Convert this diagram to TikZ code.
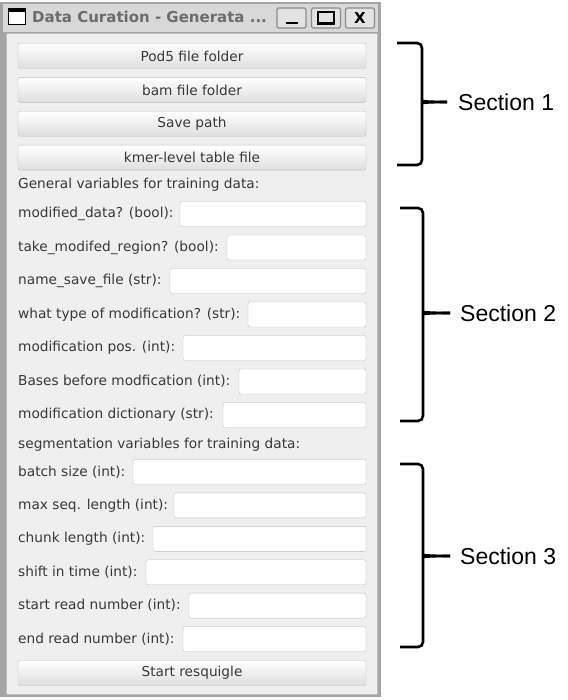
\documentclass[tikz,border=0pt]{standalone}
\usepackage{fontspec}
\setmainfont{DejaVu Sans}
\newfontfamily\secfont{Liberation Sans}
\usetikzlibrary{positioning}

\definecolor{frame}{HTML}{A4A4A4}
\definecolor{titlebg}{HTML}{D8D8D8}
\definecolor{panel}{HTML}{EFEFEF}
\definecolor{edge}{HTML}{BEBEBE}
\definecolor{txt}{HTML}{383838}
\definecolor{titletxt}{HTML}{6C6C6C}

\newcommand\guifont{\fontsize{13.7}{16}\selectfont}

\tikzset{
	btn/.style={draw=edge, rounded corners=2pt, top color=white, bottom color=panel!85!gray, minimum width=348pt, minimum height=25pt, inner sep=0pt, text=txt, font=\guifont},
	lab/.style={anchor=west, inner sep=0pt, text=txt, font=\guifont},
	entry/.style={draw=edge, fill=white, rounded corners=2pt},
	tbtn/.style={draw=gray!90, line width=1.2pt, fill=gray!22, rounded corners=1.5pt, minimum width=29pt, minimum height=20pt, inner sep=0pt},
	sec/.style={anchor=west, inner sep=0pt, font=\secfont\fontsize{23}{26}\selectfont},
	bracket/.style={line width=2.6pt, rounded corners=5pt}
}

\begin{document}
\begin{tikzpicture}[x=1pt,y=-1pt]
	
	\useasboundingbox[fill=white] (0,0) rectangle (567,700);
	
	\fill[frame] (0,2) rectangle (381,697);
	\fill[titlebg] (3,4) rectangle (378,32);
	\filldraw[fill=panel, draw=edge] (6,33) rectangle (377,694);
	
	\filldraw[fill=white, draw=black, line width=1pt] (8,9) rectangle (25,25);
	\fill[black] (7.5,8) rectangle (25.5,12);
	\node[anchor=west, inner sep=0pt, text=titletxt, font=\fontsize{15}{17}\selectfont\bfseries] (title) at (32,17) {Data Curation - Generata ...};
	\node[tbtn] (min) at (291.5,18) {};
	\node[tbtn] (max) at (326,18) {};
	\node[tbtn] (close) at (360,18) {};
	\draw[line width=2pt] ([xshift=-6pt,yshift=-5pt]min.center) -- ([xshift=6pt,yshift=-5pt]min.center);
	\draw[line width=1.4pt] ([xshift=-8pt,yshift=-6pt]max.center) rectangle ([xshift=8pt,yshift=6pt]max.center);
	\draw[line width=1.4pt] ([xshift=-8pt,yshift=-5pt]max.center) -- ([xshift=8pt,yshift=-5pt]max.center);
	\node[font=\fontsize{15}{17}\selectfont\bfseries] at (close.center) {X};
	
	\node[btn] (pod) at (192,56) {Pod5 file folder};
	\node[btn, below=8.5pt of pod] (bam) {bam file folder};
	\node[btn, below=8.5pt of bam] (save) {Save path};
	\node[btn, below=8.5pt of save] (kmer) {kmer-level table file};
	
	\node[lab] (general) at (18,185) {General variables for training data:};
	\foreach \n/\y/\xb/\t in {
		1/214/180/{modified\_data? (bool):},
		2/247.5/227/{take\_modifed\_region? (bool):},
		3/281/170/{name\_save\_file (str):},
		4/314.5/248/{what type of modification? (str):},
		5/348/183/{modification pos. (int):},
		6/381.5/239/{Bases before modfication (int):},
		7/415/223/{modification dictionary (str):}}
	{
		\node[lab] (g\n) at (18,\y) {\t};
		\filldraw[entry] (\xb,\y-12.5) rectangle (366,\y+12.5);
	}
	
	\node[lab] (segment) at (18,445) {segmentation variables for training data:};
	\foreach \n/\y/\xb/\t in {
		1/472/133/{batch size (int):},
		2/505.4/174/{max seq. length (int):},
		3/538.8/153/{chunk length (int):},
		4/572.2/146/{shift in time (int):},
		5/605.6/189/{start read number (int):},
		6/639/183/{end read number (int):}}
	{
		\node[lab] (s\n) at (18,\y) {\t};
		\filldraw[entry] (\xb,\y-12.5) rectangle (366,\y+12.5);
	}
	
	\node[btn] (start) at (192,673) {Start resquigle};
	
	\node[sec] (sec1) at (458,102) {Section 1};
	\node[sec] (sec2) at (460,313) {Section 2};
	\node[sec] (sec3) at (460,556) {Section 3};
	
	\draw[bracket] (397,43) -- (422,43) -- (422,96) .. controls (422,101) and (428,102) .. ([xshift=-11pt]sec1.west);
	\draw[bracket] (397,165) -- (422,165) -- (422,108) .. controls (422,103) and (428,102) .. ([xshift=-11pt]sec1.west);
	\draw[bracket] (400,208) -- (423,208) -- (423,307) .. controls (423,312) and (429,313) .. ([xshift=-10pt]sec2.west);
	\draw[bracket] (400,421) -- (423,421) -- (423,319) .. controls (423,314) and (429,313) .. ([xshift=-10pt]sec2.west);
	\draw[bracket] (400,464) -- (423,464) -- (423,550) .. controls (423,555) and (429,556) .. ([xshift=-10pt]sec3.west);
	\draw[bracket] (400,647) -- (423,647) -- (423,562) .. controls (423,557) and (429,556) .. ([xshift=-10pt]sec3.west);
	
\end{tikzpicture}
\end{document}
